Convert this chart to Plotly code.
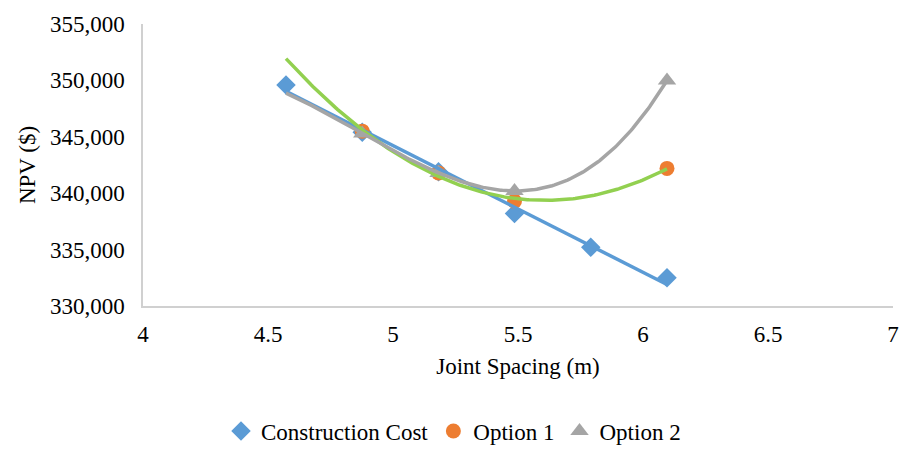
import numpy as np
import plotly.graph_objects as go

# Joint spacing (m) and NPV ($) for each alternative
spacing_cc = [4.572, 4.877, 5.182, 5.486, 5.791, 6.096]
npv_cc = [349600, 345400, 341900, 338200, 335200, 332500]

spacing_opt = [4.877, 5.182, 5.486, 6.096]
npv_opt1 = [345500, 341800, 339300, 342200]
npv_opt2 = [345300, 341800, 340200, 350000]

y_ticks = [330000, 335000, 340000, 345000, 350000, 355000]
x_ticks = [4, 4.5, 5, 5.5, 6, 6.5, 7]

BLUE = "#5B9BD5"
ORANGE = "#ED7D31"
GRAY = "#A5A5A5"
GREEN = "#92D050"
FONT = "Liberation Serif, Times New Roman, serif"
FS = 23

# Trendline fits: linear for construction cost, quadratic for option 1,
# cubic for option 2; all drawn over the span of the construction cost data
xs = np.linspace(min(spacing_cc), max(spacing_cc), 200)
fit_cc = np.polyval(np.polyfit(spacing_cc, npv_cc, 1), xs)
fit_o1 = np.polyval(np.polyfit(spacing_opt, npv_opt1, 2), xs)
fit_o2 = np.polyval(np.polyfit(spacing_opt, npv_opt2, 3), xs)

fig = go.Figure()

fig.add_trace(go.Scatter(x=spacing_cc, y=npv_cc, mode="markers", name="Construction Cost",
                         marker=dict(symbol="diamond", size=15, color=BLUE)))
fig.add_trace(go.Scatter(x=spacing_opt, y=npv_opt1, mode="markers", name="Option 1",
                         marker=dict(symbol="circle", size=15, color=ORANGE)))
fig.add_trace(go.Scatter(x=spacing_opt, y=npv_opt2, mode="markers", name="Option 2",
                         marker=dict(symbol="triangle-up", size=16, color=GRAY)))

for ys, col in [(fit_cc, BLUE), (fit_o1, GREEN), (fit_o2, GRAY)]:
    fig.add_trace(go.Scatter(x=xs, y=ys, mode="lines", showlegend=False, hoverinfo="skip",
                             line=dict(color=col, width=3.5)))

fig.update_layout(
    width=907, height=449,
    margin=dict(l=143, r=8, t=24, b=143),
    paper_bgcolor="white", plot_bgcolor="white",
    font=dict(family=FONT, size=FS, color="#000000"),
    legend=dict(orientation="h", xref="container", yref="container",
                x=0.5, xanchor="center", y=0.04, yanchor="middle",
                font=dict(family=FONT, size=FS), itemwidth=30,
                traceorder="normal"),
)

fig.update_xaxes(
    range=[4, 7], tickvals=x_ticks, ticktext=[str(v) for v in x_ticks],
    showgrid=False, zeroline=False, showline=True, linecolor="#D0D0D0", linewidth=1.5,
    ticks="", ticklabelstandoff=7,
    tickfont=dict(family=FONT, size=FS),
    title=dict(text="Joint Spacing (m)", font=dict(family=FONT, size=FS), standoff=12),
)
fig.update_yaxes(
    range=[330000, 355000], tickvals=y_ticks, tickformat=",",
    showgrid=False, zeroline=False, showline=True, linecolor="#D0D0D0", linewidth=1.5,
    ticks="", ticklabelstandoff=12,
    tickfont=dict(family=FONT, size=FS),
    title=dict(text="NPV ($)", font=dict(family=FONT, size=FS), standoff=8),
)

fig.write_html("out.html")
